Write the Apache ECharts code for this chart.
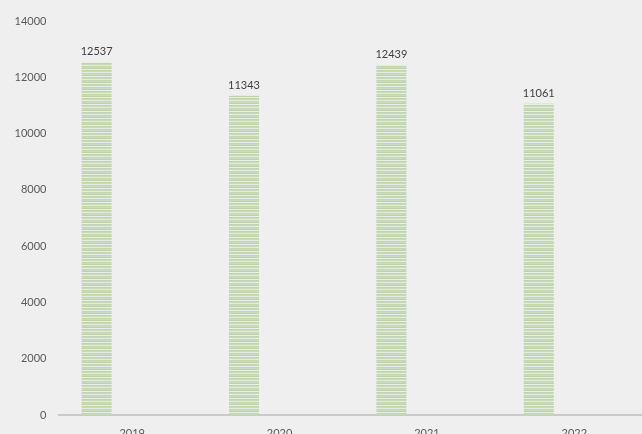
<!DOCTYPE html>
<html><head><meta charset="utf-8">
<script src="https://cdn.jsdelivr.net/npm/echarts@6/dist/echarts.min.js"></script>
<style>html,body{margin:0;padding:0;background:#efefef;overflow:hidden;}#c{width:642px;height:434px;}</style>
</head><body><div id="c"></div>
<script>
const categories = ['2019', '2020', '2021', '2022'];
const values = [12537, 11343, 12439, 11061];
const emptySeries = [null, null, null, null];
const yTicks = {min: 0, max: 14000, interval: 2000};

const pc = document.createElement('canvas');
pc.width = 4; pc.height = 7;
const ctx = pc.getContext('2d');
const rows = ['#bfd6ad', '#c8dbb9', '#e6ebe0', '#c2d8b1', '#cbdcbe', '#bcd3aa', '#eaeee5'];
rows.forEach((c, i) => { ctx.fillStyle = c; ctx.fillRect(0, i, 4, 1); });

const chart = echarts.init(document.getElementById('c'), null, {renderer: 'canvas'});
const font = 'Lato, "Open Sans", sans-serif';
chart.setOption({
  backgroundColor: '#efefef',
  animation: false,
  grid: {left: 58.5, right: -6, top: 21, bottom: 19, containLabel: false, outerBoundsMode: 'none'},
  xAxis: {
    type: 'category', data: categories,
    axisLine: {lineStyle: {color: '#bfbfbf', width: 1.5}},
    axisTick: {show: false},
    axisLabel: {color: '#595959', fontSize: 11, fontFamily: font, margin: 13}
  },
  yAxis: {
    type: 'value', min: yTicks.min, max: yTicks.max, interval: yTicks.interval,
    axisLine: {show: false}, axisTick: {show: false}, splitLine: {show: false},
    axisLabel: {color: '#595959', fontSize: 11, fontFamily: font, margin: 12, formatter: v => String(v)}
  },
  series: [
    {type: 'bar', data: values, barWidth: 30, barGap: '137%',
     itemStyle: {color: {image: pc, repeat: 'repeat'}},
     label: {show: true, position: 'top', distance: 5, color: '#404040', fontSize: 11, fontFamily: font}},
    {type: 'bar', data: emptySeries, barWidth: 30}
  ]
});
</script></body></html>
